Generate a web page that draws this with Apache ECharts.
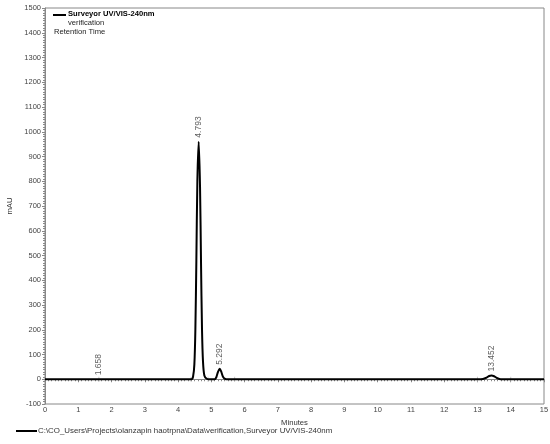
<!DOCTYPE html>
<html><head><meta charset="utf-8">
<script src="https://cdn.jsdelivr.net/npm/echarts@6/dist/echarts.min.js"></script>
<style>html,body{margin:0;padding:0;background:#fff}#c{width:550px;height:444px}</style>
</head><body><div id="c"></div>
<script>
// chromatogram trace (minutes, mAU)
const times  = [0, 1.0, 2.0, 3.0, 4.0, 4.40, 4.45, 4.49, 4.52, 4.55, 4.58, 4.62, 4.66, 4.69, 4.72, 4.75, 4.79, 4.86, 4.95, 5.10, 5.15, 5.20, 5.25, 5.30, 5.35, 5.42, 5.50, 8.0, 11.0, 13.10, 13.25, 13.35, 13.42, 13.50, 13.60, 13.70, 14.5, 15.0];
const signal = [0, 0,   0,   0,   0,   0,    10,   60,   200,  480,  800,  960,  780,  470,  200,  70,   15,   2,    0,    0,    8,    30,   42,   30,   10,   1,    0,    0,   0,    0,     5,     13,    15,    12,    4,     0,     0,    0];
// peak labels: position on trace and text
const peakTimes  = [1.62, 4.62, 5.25, 13.42];
const peakValues = [0, 960, 42, 15];
const peakLabels = ['1.658', '4.793', '5.292', '13.452'];
// integration event markers on baseline
const markerTimes = [1.62, 4.39, 4.9, 5.7, 13.0, 14.0];
const seriesName = 'C:\\CO_Users\\Projects\\olanzapin haotrpna\\Data\\verification,Surveyor UV/VIS-240nm';

const chart = echarts.init(document.getElementById('c'), null, {renderer:'canvas'});
const font = 'Liberation Sans, Arial, sans-serif';
const axisCol = '#888';
chart.setOption({
  animation:false,
  grid:{left:45, right:6, top:8, bottom:40, show:true, borderColor:axisCol, borderWidth:1,
        containLabel:false, outerBoundsMode:'none'},
  legend:{
    left:11, bottom:4, itemWidth:21, itemHeight:2, icon:'rect', itemGap:0,
    data:[seriesName],
    textStyle:{fontFamily:font, fontSize:7.9, color:'#333', padding:[0,0,0,-4]}
  },
  xAxis:{
    type:'value', min:0, max:15, interval:1,
    name:'Minutes', nameLocation:'middle', nameGap:8,
    nameTextStyle:{fontFamily:font, fontSize:7.7, color:'#333'},
    axisLine:{lineStyle:{color:axisCol}},
    axisTick:{length:3, lineStyle:{color:axisCol}},
    minorTick:{show:true, splitNumber:10, length:2, lineStyle:{color:axisCol}},
    axisLabel:{fontFamily:font, fontSize:7.5, color:'#444', margin:2},
    splitLine:{show:false}
  },
  yAxis:{
    type:'value', min:-100, max:1500, interval:100,
    name:'mAU', nameLocation:'middle', nameGap:31, nameRotate:90,
    nameTextStyle:{fontFamily:font, fontSize:7.7, color:'#333'},
    axisLine:{show:true, lineStyle:{color:axisCol}},
    axisTick:{show:true, length:3, lineStyle:{color:axisCol}},
    minorTick:{show:true, splitNumber:10, length:2, lineStyle:{color:axisCol}},
    axisLabel:{fontFamily:font, fontSize:7.5, color:'#444', margin:4, formatter:v=>String(v)},
    splitLine:{show:false}
  },
  graphic:[
    {type:'line', shape:{x1:53, y1:15, x2:66, y2:15}, style:{stroke:'#000', lineWidth:2}},
    {type:'text', left:68, top:10, style:{text:'Surveyor UV/VIS-240nm', font:'bold 7.6px '+font, fill:'#000'}},
    {type:'text', left:68, top:19, style:{text:'verification', font:'7.6px '+font, fill:'#222'}},
    {type:'text', left:54, top:28, style:{text:'Retention Time', font:'7.6px '+font, fill:'#222'}}
  ],
  series:[
    {
      name:seriesName, type:'line', showSymbol:false, smooth:0.3,
      lineStyle:{color:'#000', width:2}, itemStyle:{color:'#000'},
      data:times.map((t,i)=>[t, signal[i]])
    },
    {
      type:'scatter', symbol:'rect', symbolSize:[1,5], silent:true,
      itemStyle:{color:'#bbb'},
      data:markerTimes.map(t=>[t,0])
    },
    {
      type:'scatter', symbolSize:0, silent:true,
      data:peakTimes.map((t,i)=>({value:[t, peakValues[i]], label:{formatter:peakLabels[i]}})),
      label:{show:true, position:'top', rotate:90, align:'left', verticalAlign:'middle', distance:4,
             fontFamily:font, fontSize:8.5, color:'#333'}
    }
  ]
});
</script></body></html>
